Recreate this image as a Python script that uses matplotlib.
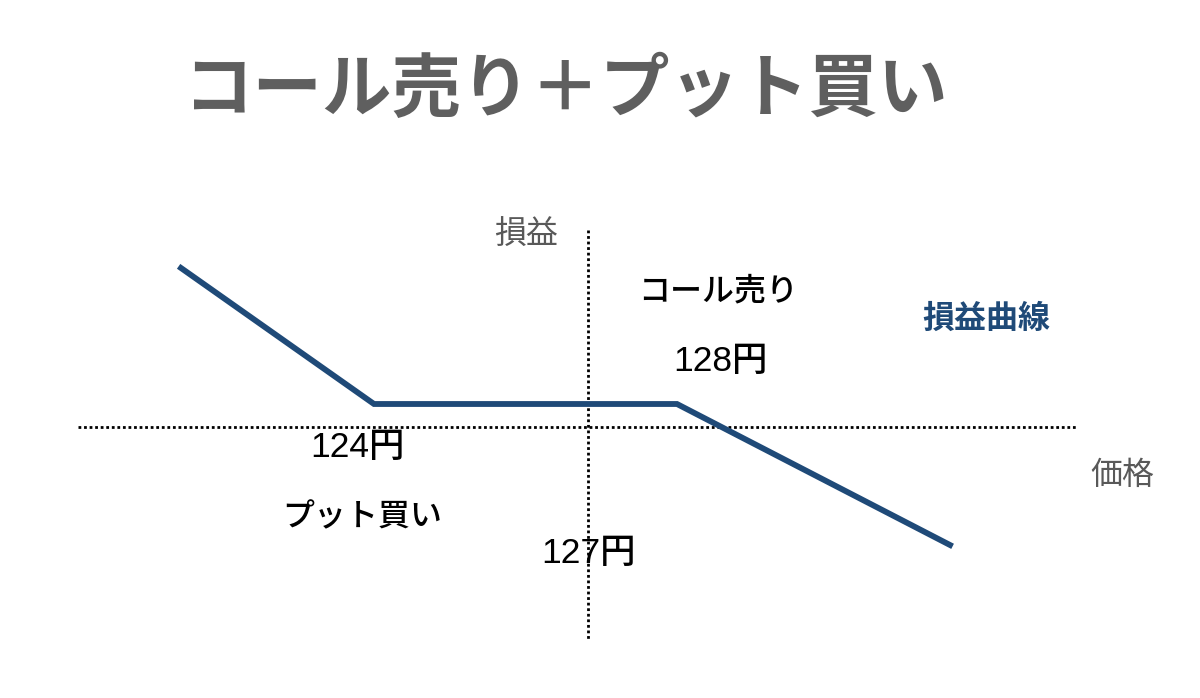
import matplotlib
matplotlib.use("Agg")
import matplotlib.pyplot as plt

plt.rcParams['font.family'] = ['Liberation Sans', 'Noto Sans CJK JP', 'DejaVu Sans']

# 損益曲線 (図の座標, 模式図)
curve_x = [181, 374, 677, 950]
curve_y = [268, 404, 404, 545]

# 軸
h_axis = ([78, 1078], [427, 427])
v_axis = ([588, 588], [230, 640])

# ラベル
labels = ["損益", "価格", "損益曲線", "コール売り", "128円", "124円", "プット買い", "127円"]
label_x = [526, 1122, 986, 718, 720, 357, 362, 589]
label_y = [236, 476, 320, 292, 362, 447, 518, 553]
label_col = ["#595959", "#595959", "#1f4a78", "black", "black", "black", "black", "black"]
label_w = ["normal", "normal", "bold", "medium", "medium", "medium", "medium", "medium"]
label_fs = [23, 23, 23, 23, 25.5, 25.5, 23, 25.5]

fig = plt.figure(figsize=(12, 6.98), dpi=100)
ax = fig.add_axes([0, 0, 1, 1])
ax.set_xlim(0, 1200)
ax.set_ylim(698, 0)
ax.axis("off")

ax.plot(*h_axis, color="black", linestyle=(0, (1, 1.0)), linewidth=2.0)
ax.plot(*v_axis, color="black", linestyle=(0, (1, 1.0)), linewidth=2.0)
ax.plot(curve_x, curve_y, color="#1f4a78", linewidth=4.2, solid_joinstyle="miter")

for t, x, y, c, w, fs in zip(labels, label_x, label_y, label_col, label_w, label_fs):
    ax.text(x, y, t, color=c, fontsize=fs, fontweight=w, ha="center", va="center")

ax.text(566, 91, "コール売り＋プット買い", color="#5f5f5f", fontsize=50,
        fontweight="bold", ha="center", va="center",
        family=['Noto Sans CJK JP', 'DejaVu Sans'])

fig.savefig("out.png", dpi=100)
